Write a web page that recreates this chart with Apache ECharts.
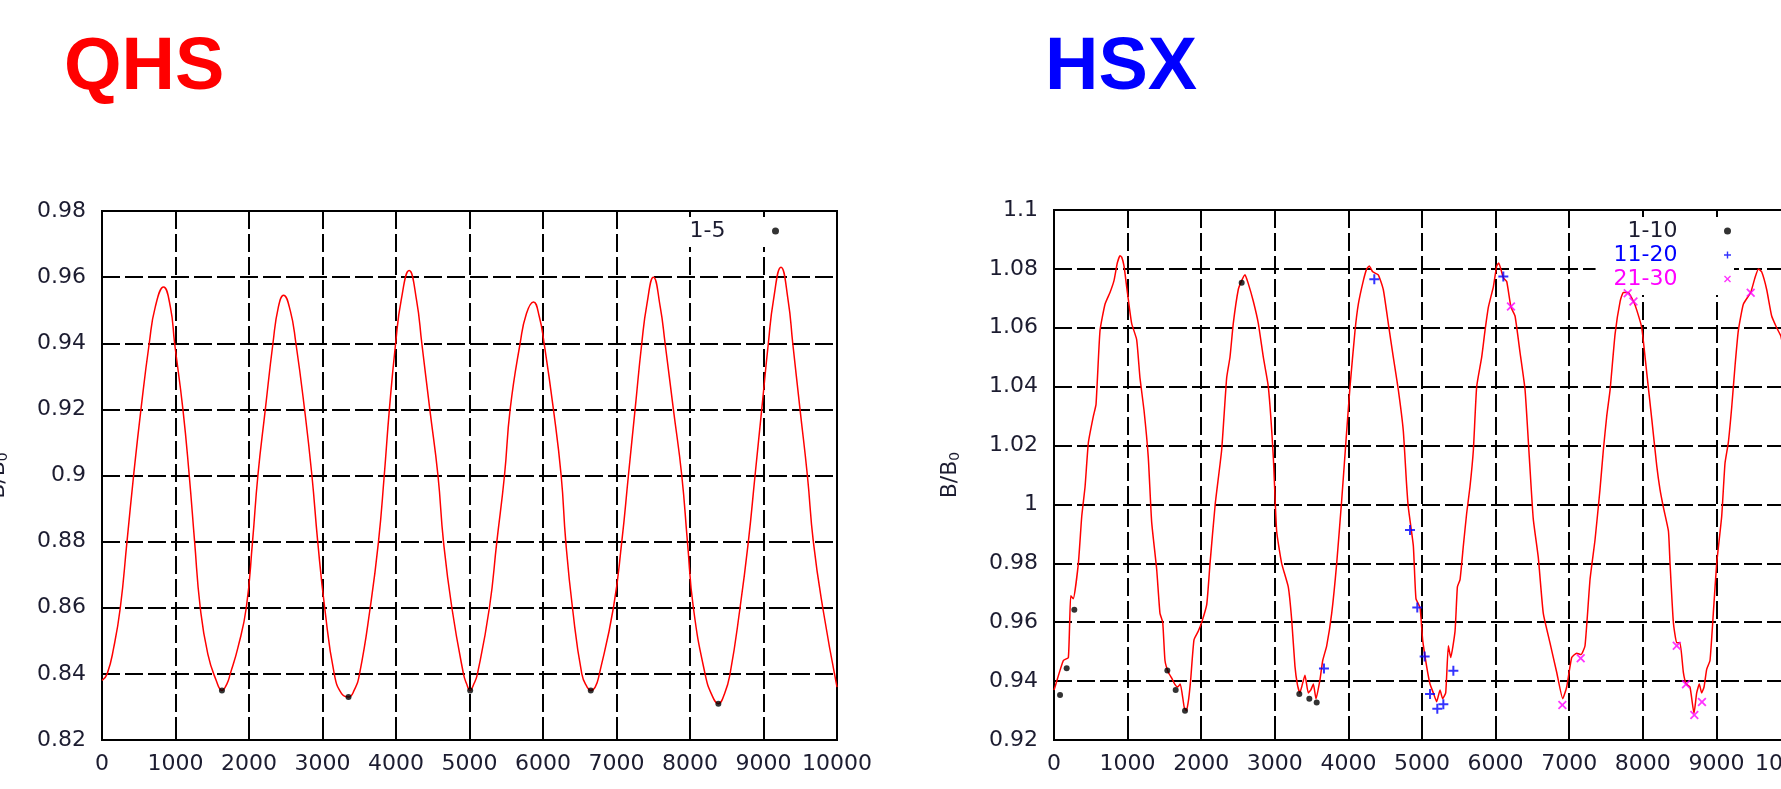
<!DOCTYPE html>
<html>
<head>
<meta charset="utf-8">
<script src="https://cdn.jsdelivr.net/npm/echarts@6/dist/echarts.min.js"></script>
<style>
html, body { margin: 0; padding: 0; background: #fff; }
#chart { width: 1781px; height: 789px; }
</style>
</head>
<body>
<div id="chart"></div>
<script>
// QHS: smooth B/B0 curve along the field line
var qhsCurve = [
    [0,0.838],[70,0.840],[160,0.848],[249,0.860],[340,0.880],[430,0.900],[530,0.920],[643,0.940],
    [725,0.951],[838,0.957],[930,0.951],[988,0.940],[1101,0.920],[1187,0.900],[1260,0.880],[1337,0.860],
    [1440,0.846],[1554,0.838],[1632,0.835],[1700,0.837],[1745,0.840],[1850,0.848],[1963,0.860],[2048,0.880],
    [2121,0.900],[2222,0.920],[2326,0.940],[2400,0.951],[2470,0.9545],[2560,0.950],[2638,0.940],[2756,0.920],
    [2856,0.900],[2935,0.880],[3030,0.860],[3160,0.840],[3260,0.834],[3354,0.833],[3430,0.835],[3504,0.840],
    [3649,0.860],[3762,0.880],[3840,0.900],[3910,0.920],[3995,0.940],[4070,0.953],[4179,0.962],[4280,0.953],
    [4351,0.940],[4460,0.920],[4571,0.900],[4646,0.880],[4760,0.860],[4918,0.840],[4960,0.837],[5009,0.835],
    [5060,0.837],[5108,0.840],[5271,0.860],[5372,0.880],[5476,0.900],[5553,0.920],[5689,0.940],[5775,0.949],
    [5870,0.9525],[5950,0.948],[6015,0.940],[6142,0.920],[6247,0.900],[6310,0.880],[6401,0.860],[6528,0.840],
    [6600,0.836],[6650,0.835],[6710,0.836],[6767,0.840],[6958,0.860],[7072,0.880],[7162,0.900],[7253,0.920],
    [7344,0.940],[7415,0.952],[7502,0.960],[7595,0.951],[7661,0.940],[7774,0.920],[7888,0.900],[7965,0.880],
    [8046,0.860],[8205,0.840],[8300,0.8335],[8386,0.831],[8470,0.834],[8545,0.840],[8681,0.860],[8794,0.880],
    [8885,0.900],[8976,0.920],[9066,0.940],[9135,0.953],[9238,0.963],[9335,0.953],[9398,0.940],[9497,0.920],
    [9597,0.900],[9678,0.880],[9806,0.860],[10000,0.836]
];
var qhsPts15 = [[1632,0.835],[3354,0.833],[5009,0.835],[6650,0.835],[8386,0.831]];

// HSX: jagged B/B0 curve
var hsxCurve = [
    [0,0.937],[13,0.938],[127,0.947],[195,0.948],[227,0.969],[262,0.968],[331,0.980],[377,0.996],
    [422,1.006],[467,1.021],[535,1.030],[571,1.034],[625,1.059],[693,1.068],[761,1.072],[815,1.076],
    [860,1.082],[897,1.0845],[920,1.084],[951,1.081],[987,1.074],[1055,1.0615],[1123,1.056],[1168,1.043],
    [1223,1.032],[1281,1.016],[1327,0.994],[1395,0.978],[1440,0.963],[1477,0.960],[1508,0.947],[1553,0.943],
    [1600,0.941],[1640,0.939],[1680,0.938],[1716,0.939],[1770,0.931],[1800,0.930],[1830,0.934],[1857,0.9405],
    [1902,0.954],[1961,0.957],[2007,0.960],[2075,0.966],[2120,0.980],[2190,1.000],[2278,1.0185],[2346,1.043],
    [2391,1.050],[2436,1.0615],[2504,1.073],[2550,1.076],[2595,1.078],[2640,1.075],[2708,1.069],[2776,1.0615],
    [2844,1.050],[2912,1.040],[2980,1.016],[3025,0.991],[3093,0.980],[3183,0.972],[3229,0.961],[3274,0.945],
    [3306,0.939],[3340,0.936],[3365,0.938],[3410,0.942],[3455,0.936],[3490,0.937],[3524,0.939],[3560,0.934],
    [3614,0.9405],[3651,0.947],[3705,0.952],[3773,0.963],[3841,0.980],[3909,1.0015],[3977,1.025],[4022,1.040],
    [4090,1.059],[4135,1.068],[4203,1.076],[4249,1.080],[4284,1.081],[4330,1.079],[4406,1.078],[4474,1.073],
    [4542,1.0615],[4610,1.050],[4678,1.039],[4746,1.025],[4790,1.007],[4814,0.999],[4882,0.986],[4918,0.968],
    [4973,0.965],[5009,0.954],[5063,0.945],[5109,0.939],[5154,0.936],[5199,0.933],[5245,0.937],[5280,0.934],
    [5322,0.936],[5358,0.952],[5390,0.948],[5449,0.957],[5481,0.972],[5517,0.9745],[5562,0.986],[5607,0.997],
    [5652,1.006],[5698,1.0185],[5743,1.040],[5811,1.050],[5856,1.059],[5902,1.067],[5970,1.074],[6015,1.081],
    [6042,1.082],[6105,1.077],[6151,1.0757],[6209,1.067],[6264,1.064],[6332,1.0516],[6400,1.039],[6458,1.016],
    [6512,0.995],[6580,0.982],[6648,0.963],[6739,0.953],[6830,0.943],[6912,0.934],[6966,0.938],[7034,0.948],
    [7102,0.9495],[7160,0.949],[7215,0.952],[7283,0.9745],[7351,0.988],[7418,1.005],[7464,1.0185],[7510,1.030],
    [7556,1.039],[7624,1.058],[7692,1.069],[7736,1.072],[7800,1.072],[7873,1.069],[7918,1.066],[7986,1.060],
    [8054,1.0446],[8122,1.029],[8190,1.013],[8234,1.005],[8280,0.999],[8348,0.991],[8370,0.980],[8415,0.960],
    [8461,0.953],[8505,0.953],[8551,0.943],[8590,0.939],[8641,0.938],[8696,0.929],[8732,0.936],[8768,0.939],
    [8800,0.936],[8832,0.938],[8868,0.944],[8913,0.947],[8958,0.963],[9004,0.980],[9072,0.996],[9117,1.014],
    [9162,1.021],[9208,1.033],[9253,1.047],[9298,1.059],[9366,1.068],[9466,1.072],[9524,1.077],[9570,1.080],
    [9615,1.079],[9683,1.073],[9751,1.064],[9819,1.060],[9878,1.057],[9950,1.045],[10000,1.030]
];
var hsxPts1 = [[82,0.9353],[172,0.9444],[276,0.9642],[1540,0.9436],[1653,0.937],[1780,0.9299],[2550,1.0753],[3333,0.9356],[3469,0.934],[3569,0.9327]];
var hsxPts2 = [[3668,0.9443],[4352,1.0765],[4837,0.9913],[4936,0.965],[5036,0.9484],[5109,0.9356],[5208,0.9306],[5290,0.9321],[5426,0.9435],[6105,1.0774]];
var hsxPts3 = [[6209,1.0672],[6907,0.9319],[7156,0.9478],[7795,1.0717],[7873,1.0689],[8461,0.952],[8587,0.9389],[8700,0.9285],[8804,0.9329],[9466,1.0719]];

var TITLE_FONT = '"Liberation Sans", Arial, Helvetica, sans-serif';
var FONT = '"DejaVu Sans", Verdana, sans-serif';
var LABEL_COLOR = '#1c1c30';
var PLUS = 'path://M4,0H6V4H10V6H6V10H4V6H0V4H4Z';
var CROSS = 'path://M1.4,0L5,3.6L8.6,0L10,1.4L6.4,5L10,8.6L8.6,10L5,6.4L1.4,10L0,8.6L3.6,5L0,1.4Z';

var dash = { color: '#000', width: 2, type: [18, 5] };

function xAx(gi) {
    return {
        type: 'value', gridIndex: gi, min: 0, max: 10000, interval: 1000,
        axisLine: { show: true, lineStyle: { color: '#000', width: 2 } },
        axisTick: { show: true, inside: true, length: 8, lineStyle: { color: '#000', width: 2 } },
        axisLabel: { fontSize: 22, color: LABEL_COLOR, fontFamily: FONT, margin: 13,
            formatter: function (v) { return String(v); } },
        splitLine: { show: true, lineStyle: dash }
    };
}
function yAx(gi, mn, mx) {
    return {
        type: 'value', gridIndex: gi, min: mn, max: mx, interval: 0.02,
        name: 'B/B{s|0}', nameLocation: 'middle', nameGap: 92,
        nameTextStyle: { fontSize: 22, color: LABEL_COLOR, fontFamily: FONT,
            rich: { s: { fontSize: 14, color: LABEL_COLOR, fontFamily: FONT, padding: [10, 0, 0, 0] } } },
        axisLine: { show: true, lineStyle: { color: '#000', width: 2 } },
        axisTick: { show: true, inside: true, length: 8, lineStyle: { color: '#000', width: 2 } },
        axisLabel: { fontSize: 22, color: LABEL_COLOR, fontFamily: FONT, margin: 16,
            formatter: function (v) { return String(+v.toFixed(2)); } },
        splitLine: { show: true, lineStyle: dash }
    };
}
function key(names, colors, rightPx) {
    return {
        orient: 'vertical', align: 'right', right: rightPx, top: 217,
        itemWidth: 90, itemHeight: 7, itemGap: 2,
        backgroundColor: '#fff', padding: [3, 3, 5, 18],
        selectedMode: false,
        data: names.map(function (n, i) {
            return { name: n, textStyle: { color: colors[i], fontSize: 22, fontFamily: FONT } };
        })
    };
}

var chart = echarts.init(document.getElementById('chart'), null, { renderer: 'canvas' });
chart.setOption({
    animation: false,
    backgroundColor: '#fff',
    title: [
        { text: 'QHS', left: 59, top: 27, textStyle: { color: '#ff0000', fontSize: 74, fontWeight: 'bold', fontFamily: TITLE_FONT } },
        { text: 'HSX', left: 1040, top: 27, textStyle: { color: '#0000ff', fontSize: 74, fontWeight: 'bold', fontFamily: TITLE_FONT } }
    ],
    grid: [
        { left: 102, top: 211, width: 735, height: 529, show: true, borderColor: '#000', borderWidth: 2,
          backgroundColor: 'transparent', containLabel: false, outerBoundsMode: 'none' },
        { left: 1054, top: 210, width: 736, height: 530, show: true, borderColor: '#000', borderWidth: 2,
          backgroundColor: 'transparent', containLabel: false, outerBoundsMode: 'none' }
    ],
    xAxis: [xAx(0), xAx(1)],
    yAxis: [yAx(0, 0.82, 0.98), yAx(1, 0.92, 1.1)],
    legend: [
        key(['1-5'], ['#1c1c30'], 1781 - 823 + 41),
        key(['1-10', '11-20', '21-30'], ['#1c1c30', '#0000ff', '#ff00ff'], 6 + 41)
    ],
    series: [
        { name: 'QHS curve', type: 'line', xAxisIndex: 0, yAxisIndex: 0, data: qhsCurve, smooth: 0.5,
          showSymbol: false, z: 5, lineStyle: { color: '#ff0000', width: 1.5 } },
        { name: '1-5', type: 'scatter', xAxisIndex: 0, yAxisIndex: 0, data: qhsPts15, symbol: 'circle', symbolSize: 6,
          z: 6, itemStyle: { color: '#000' } },
        { name: 'HSX curve', type: 'line', xAxisIndex: 1, yAxisIndex: 1, data: hsxCurve, smooth: 0.15,
          showSymbol: false, z: 5, lineStyle: { color: '#ff0000', width: 1.5 } },
        { name: '1-10', type: 'scatter', xAxisIndex: 1, yAxisIndex: 1, data: hsxPts1, symbol: 'circle', symbolSize: 6,
          z: 6, itemStyle: { color: '#000' } },
        { name: '11-20', type: 'scatter', xAxisIndex: 1, yAxisIndex: 1, data: hsxPts2, symbol: PLUS, symbolSize: 10,
          z: 6, itemStyle: { color: '#0000ff' } },
        { name: '21-30', type: 'scatter', xAxisIndex: 1, yAxisIndex: 1, data: hsxPts3, symbol: CROSS, symbolSize: 9,
          z: 6, itemStyle: { color: '#ff00ff' } }
    ]
});
</script>
</body>
</html>
